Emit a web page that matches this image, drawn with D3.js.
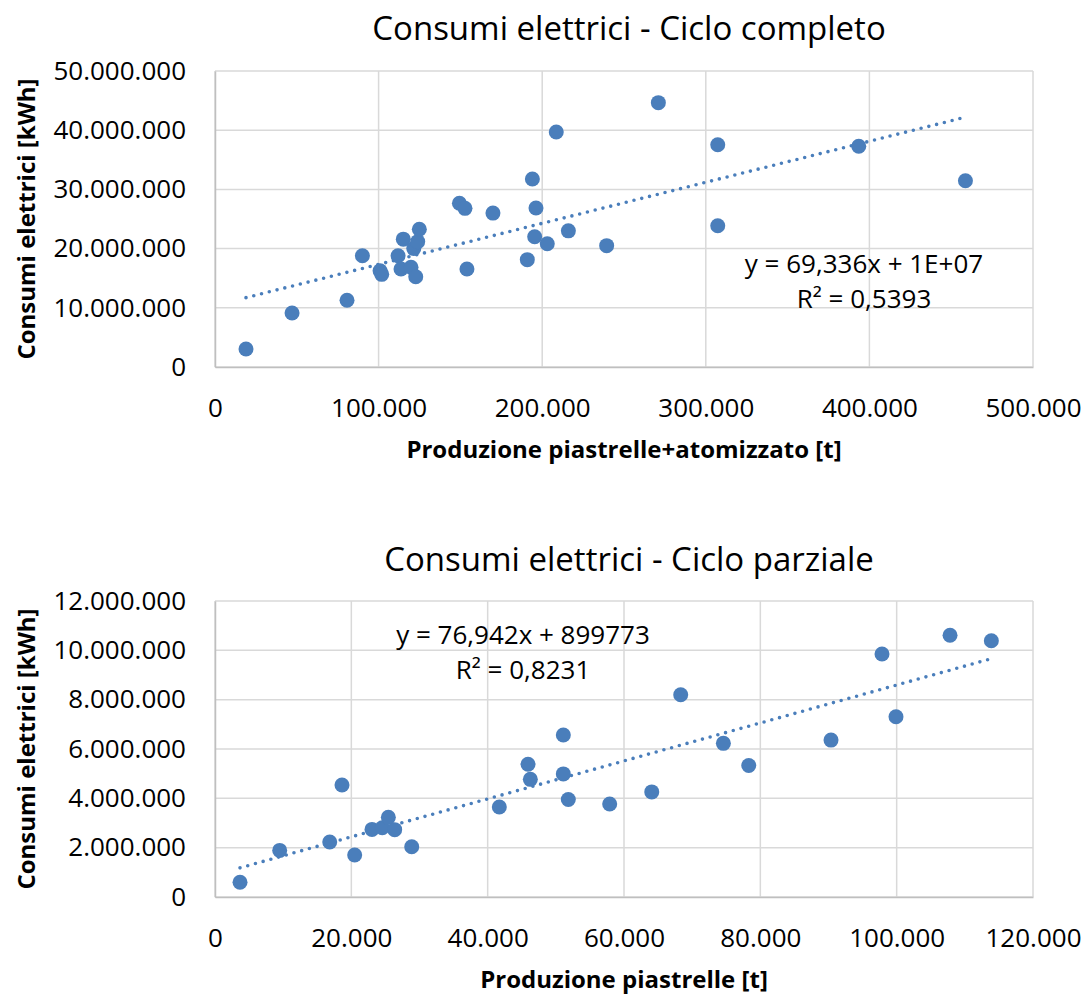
<!DOCTYPE html>
<html>
<head>
<meta charset="utf-8">
<script src="https://cdn.jsdelivr.net/npm/d3@7"></script>
<style>
  html, body { margin: 0; padding: 0; background: #fff; }
  svg { display: block; font-family: "Open Sans", "Noto Sans", sans-serif; }
</style>
</head>
<body>
<svg id="chart" width="1087" height="994"></svg>
<script>
// Ciclo completo: produzione piastrelle+atomizzato [t] vs consumi elettrici [kWh]
const completoProduzione = [
  18950, 47100, 80700, 90100, 100900, 101900, 111900, 115100, 113700, 119800,
  122700, 121500, 123900, 124900, 149400, 152800, 154000, 169900, 190900, 194000,
  196200, 195400, 203100, 208600, 216000, 239400, 271000, 307300, 307300, 393500,
  458700
];
const completoConsumi = [
  3040000, 9120000, 11270000, 18800000, 16270000, 15650000, 18800000, 21600000, 16550000, 16840000,
  15250000, 20000000, 21170000, 23260000, 27650000, 26800000, 16550000, 26000000, 18130000, 31760000,
  26860000, 22000000, 20830000, 39700000, 23000000, 20500000, 44650000, 37550000, 23870000, 37280000,
  31470000
];
const completoTrend = { slope: 69.336, intercept: 10400000 };
const completoEquazione = ["y = 69,336x + 1E+07", "R² = 0,5393"];
const completoXTicks = [0, 100000, 200000, 300000, 400000, 500000];
const completoYTicks = [0, 10000000, 20000000, 30000000, 40000000, 50000000];

// Ciclo parziale: produzione piastrelle [t] vs consumi elettrici [kWh]
const parzialeProduzione = [
  3670, 9490, 16830, 18630, 20490, 23030, 24540, 25430, 26360, 28860,
  41710, 45920, 46260, 51100, 51100, 51830, 57900, 64070, 68320, 74580,
  78300, 90370, 97850, 99900, 107830, 113890
];
const parzialeConsumi = [
  600000, 1890000, 2230000, 4540000, 1700000, 2740000, 2810000, 3230000, 2730000, 2040000,
  3650000, 5380000, 4770000, 6570000, 4990000, 3950000, 3770000, 4260000, 8200000, 6230000,
  5330000, 6360000, 9850000, 7310000, 10610000, 10390000
];
const parzialeTrend = { slope: 76.942, intercept: 899773 };
const parzialeEquazione = ["y = 76,942x + 899773", "R² = 0,8231"];
const parzialeXTicks = [0, 20000, 40000, 60000, 80000, 100000, 120000];
const parzialeYTicks = [0, 2000000, 4000000, 6000000, 8000000, 10000000, 12000000];

// Italian number format: dot as thousands separator
const itLocale = d3.formatLocale({ decimal: ",", thousands: ".", grouping: [3], currency: ["€", ""] });
const fmt = itLocale.format(",d");

const svg = d3.select("#chart");
const markerColor = "#4a7ebb";
const gridColor = "#d9d9d9";

function panel(cfg) {
  const g = svg.append("g");
  const x = d3.scaleLinear().domain([0, d3.max(cfg.xTicks)]).range([cfg.left, cfg.right]);
  const y = d3.scaleLinear().domain([0, d3.max(cfg.yTicks)]).range([cfg.bottom, cfg.top]);

  // gridlines
  g.append("g").selectAll("line.h").data(cfg.yTicks).join("line")
    .attr("x1", cfg.left).attr("x2", cfg.right)
    .attr("y1", d => y(d)).attr("y2", d => y(d))
    .attr("stroke", gridColor).attr("stroke-width", 1.5);
  g.append("g").selectAll("line.v").data(cfg.xTicks).join("line")
    .attr("y1", cfg.top).attr("y2", cfg.bottom)
    .attr("x1", d => x(d)).attr("x2", d => x(d))
    .attr("stroke", gridColor).attr("stroke-width", 1.5);

  // axes (lines only, labels drawn by axis generators)
  const yAxis = d3.axisLeft(y).tickValues(cfg.yTicks).tickFormat(fmt).tickSize(0).tickPadding(29);
  const xAxis = d3.axisBottom(x).tickValues(cfg.xTicks).tickFormat(fmt).tickSize(0).tickPadding(30);
  const ya = g.append("g").attr("transform", `translate(${cfg.left},0)`).call(yAxis);
  const xa = g.append("g").attr("transform", `translate(0,${cfg.bottom})`).call(xAxis);
  [ya, xa].forEach(a => {
    a.select(".domain").attr("stroke", "#bfbfbf").attr("stroke-width", 1.5);
    a.selectAll("text").attr("font-size", 26).attr("fill", "#000")
      .attr("font-family", "'Open Sans', sans-serif");
  });
  xa.selectAll("text").attr("dy", "0.32em").attr("y", 42);

  // trendline (linear fit), dotted
  const xr = d3.extent(cfg.xs);
  g.append("line")
    .attr("x1", x(xr[0])).attr("y1", y(cfg.trend.slope * xr[0] + cfg.trend.intercept))
    .attr("x2", x(xr[1])).attr("y2", y(cfg.trend.slope * xr[1] + cfg.trend.intercept))
    .attr("stroke", markerColor).attr("stroke-width", 3.6)
    .attr("stroke-linecap", "round").attr("stroke-dasharray", "0 8");

  // points
  g.append("g").selectAll("circle").data(cfg.xs.map((v, i) => [v, cfg.ys[i]])).join("circle")
    .attr("cx", d => x(d[0])).attr("cy", d => y(d[1])).attr("r", 7.5)
    .attr("fill", markerColor);

  // trend equation label
  g.append("g").selectAll("text").data(cfg.eq).join("text")
    .attr("x", cfg.eqX).attr("y", (d, i) => cfg.eqY + i * 35)
    .attr("text-anchor", "middle").attr("dy", "0.35em")
    .attr("font-size", 26).attr("fill", "#000").text(d => d);

  // title
  g.append("text").attr("x", cfg.titleX).attr("y", cfg.titleY)
    .attr("text-anchor", "middle").attr("font-size", 33).attr("fill", "#000")
    .text(cfg.title);

  // axis titles
  g.append("text").attr("x", (cfg.left + cfg.right) / 2).attr("y", cfg.bottom + 83)
    .attr("text-anchor", "middle").attr("dy", "0.35em")
    .attr("font-size", 24).attr("font-weight", "bold").attr("fill", "#000")
    .text(cfg.xTitle);
  g.append("text")
    .attr("transform", `translate(27,${(cfg.top + cfg.bottom) / 2}) rotate(-90)`)
    .attr("text-anchor", "middle").attr("dy", "0.35em")
    .attr("font-size", 24).attr("font-weight", "bold").attr("fill", "#000")
    .text(cfg.yTitle);
}

panel({
  left: 215, right: 1033, top: 71, bottom: 367,
  xs: completoProduzione, ys: completoConsumi,
  xTicks: completoXTicks, yTicks: completoYTicks,
  trend: completoTrend, eq: completoEquazione, eqX: 864, eqY: 264,
  title: "Consumi elettrici - Ciclo completo", titleX: 629, titleY: 40,
  xTitle: "Produzione piastrelle+atomizzato [t]", yTitle: "Consumi elettrici [kWh]"
});

panel({
  left: 215, right: 1033, top: 601, bottom: 897,
  xs: parzialeProduzione, ys: parzialeConsumi,
  xTicks: parzialeXTicks, yTicks: parzialeYTicks,
  trend: parzialeTrend, eq: parzialeEquazione, eqX: 523, eqY: 635,
  title: "Consumi elettrici - Ciclo parziale", titleX: 629, titleY: 571,
  xTitle: "Produzione piastrelle [t]", yTitle: "Consumi elettrici [kWh]"
});
</script>
</body>
</html>
